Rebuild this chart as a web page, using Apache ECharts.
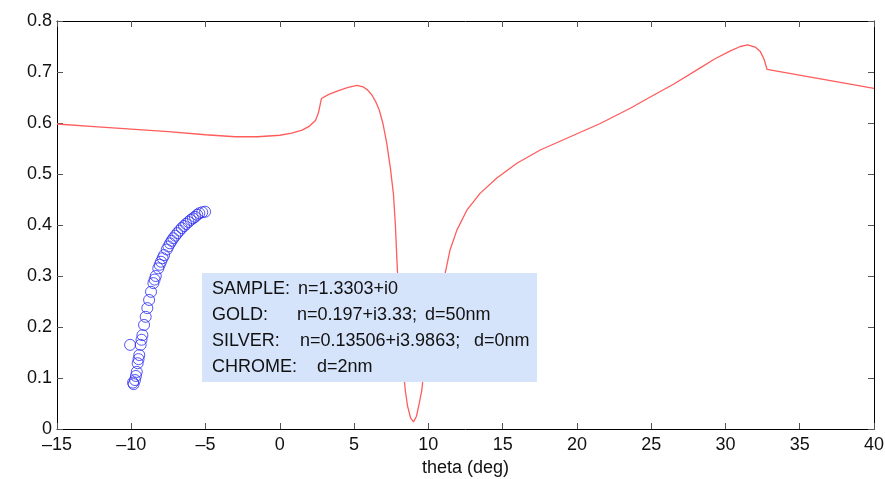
<!DOCTYPE html>
<html>
<head>
<meta charset="utf-8">
<script src="https://cdn.jsdelivr.net/npm/echarts@6/dist/echarts.min.js"></script>
<style>
  html, body { margin: 0; padding: 0; background: #fff; }
  #chart { width: 885px; height: 479px; }
</style>
</head>
<body>
<div id="chart"></div>
<script>
// reflectivity curve (theta in deg, R)
const curveTheta = [-15, -12.5, -10, -7.5, -5, -3, -1.5, 0, 0.8, 1.5, 2.0, 2.4, 2.6, 2.8, 3.3, 4.0, 4.6, 5.2, 5.6, 5.9, 6.2, 6.45, 6.7, 6.95, 7.2, 7.45, 7.65, 7.78, 7.87, 7.95, 8.1, 8.3, 8.45, 8.6, 8.8, 9.0, 9.2, 9.4, 9.56, 9.75, 9.95, 10.3, 10.7, 11.13, 11.46, 11.92, 12.59, 13.48, 14.61, 15.96, 17.53, 19.55, 21.57, 23.59, 25.0, 26.5, 28.3, 29.3, 30.3, 31.0, 31.5, 32.0, 32.35, 32.6, 32.8, 40.0]
const curveR = [0.598, 0.593, 0.588, 0.583, 0.577, 0.573, 0.573, 0.576, 0.580, 0.586, 0.594, 0.605, 0.620, 0.648, 0.656, 0.664, 0.670, 0.674, 0.671, 0.665, 0.655, 0.642, 0.625, 0.598, 0.560, 0.510, 0.460, 0.400, 0.340, 0.290, 0.200, 0.120, 0.075, 0.045, 0.022, 0.014, 0.025, 0.052, 0.076, 0.130, 0.180, 0.230, 0.270, 0.305, 0.351, 0.390, 0.429, 0.462, 0.492, 0.521, 0.547, 0.573, 0.599, 0.629, 0.652, 0.676, 0.708, 0.726, 0.741, 0.750, 0.753, 0.749, 0.740, 0.725, 0.705, 0.668]

// measured points
const measTheta = [-10.08, -9.88, -9.84, -9.75, -9.69, -9.63, -9.57, -9.51, -9.46, -9.37, -9.31, -9.25, -9.14, -9.03, -8.92, -8.80, -8.67, -8.51, -8.43, -8.35, -8.18, -8.09, -8.00, -7.89, -7.79, -7.61, -7.50, -7.39, -7.28, -7.17, -7.03, -6.90, -6.75, -6.60, -6.45, -6.31, -6.15, -6.00, -5.85, -5.71, -5.56, -5.42, -5.22, -5.03]
const measR = [0.165, 0.091, 0.088, 0.096, 0.104, 0.112, 0.129, 0.137, 0.145, 0.165, 0.175, 0.184, 0.204, 0.220, 0.237, 0.253, 0.269, 0.286, 0.293, 0.300, 0.315, 0.322, 0.328, 0.335, 0.341, 0.352, 0.358, 0.364, 0.369, 0.374, 0.379, 0.384, 0.389, 0.394, 0.398, 0.402, 0.406, 0.410, 0.413, 0.416, 0.420, 0.423, 0.425, 0.426]

const xTicks = [-15, -10, -5, 0, 5, 10, 15, 20, 25, 30, 35, 40]
const yTicks = [0, 0.1, 0.2, 0.3, 0.4, 0.5, 0.6, 0.7, 0.8]

const infoLabels = ['SAMPLE:', 'GOLD:', 'SILVER:', 'CHROME:']
const infoN = ['n=1.3303+i0', 'n=0.197+i3.33;', 'n=0.13506+i3.9863;', '']
const infoD = ['', 'd=50nm', 'd=0nm', 'd=2nm']

const FONT = '"Liberation Sans", Arial, sans-serif'

const chart = echarts.init(document.getElementById('chart'))

const tickStyle = {show: true, inside: true, length: 6, lineStyle: {color: '#555', width: 1}}

// annotation box text, px positions
const nX = [298, 297, 300, 0]
const dX = [0, 425, 474, 317]
const infoText = []
infoLabels.forEach((lab, i) => {
  const y = 289 + i * 26
  const st = {font: '18px ' + FONT, fill: '#111', textVerticalAlign: 'middle'}
  infoText.push({type: 'text', x: 212, y: y, style: Object.assign({text: lab}, st), z: 101})
  if (infoN[i]) infoText.push({type: 'text', x: nX[i], y: y, style: Object.assign({text: infoN[i]}, st), z: 101})
  if (infoD[i]) infoText.push({type: 'text', x: dX[i], y: y, style: Object.assign({text: infoD[i]}, st), z: 101})
})

const option = {
  animation: false,
  backgroundColor: '#fff',
  grid: {left: 57, right: 11, top: 21, bottom: 50, containLabel: false, outerBoundsMode: 'none'},
  xAxis: [
    {
      type: 'value', min: xTicks[0], max: xTicks[xTicks.length - 1], interval: 5,
      name: 'theta (deg)', nameLocation: 'middle', nameGap: 29,
      nameTextStyle: {fontFamily: FONT, fontSize: 18, color: '#111'},
      axisLine: {show: true, onZero: false, lineStyle: {color: '#000', width: 1}},
      axisTick: tickStyle,
      axisLabel: {fontFamily: FONT, fontSize: 18, color: '#111', margin: 7,
        formatter: v => v < 0 ? '\u2013' + Math.abs(v) : String(v)},
      splitLine: {show: false}
    },
    {
      type: 'value', position: 'top', min: xTicks[0], max: xTicks[xTicks.length - 1], interval: 5,
      axisLine: {show: true, onZero: false, lineStyle: {color: '#000', width: 1}},
      axisTick: tickStyle, axisLabel: {show: false}, splitLine: {show: false}
    }
  ],
  yAxis: [
    {
      type: 'value', min: yTicks[0], max: yTicks[yTicks.length - 1], interval: 0.1,
      name: 'R', nameLocation: 'middle', nameGap: 60, nameRotate: 90,
      nameTextStyle: {fontFamily: FONT, fontSize: 18, color: '#111'},
      axisLine: {show: true, onZero: false, lineStyle: {color: '#000', width: 1}},
      axisTick: tickStyle,
      axisLabel: {fontFamily: FONT, fontSize: 18, color: '#111', margin: 5,
        formatter: v => v === 0 ? '0' : v.toFixed(1)},
      splitLine: {show: false}
    },
    {
      type: 'value', position: 'right', min: yTicks[0], max: yTicks[yTicks.length - 1], interval: 0.1,
      axisLine: {show: true, onZero: false, lineStyle: {color: '#000', width: 1}},
      axisTick: tickStyle, axisLabel: {show: false}, splitLine: {show: false}
    }
  ],
  series: [
    {
      type: 'line',
      data: curveTheta.map((t, i) => [t, curveR[i]]),
      showSymbol: false,
      smooth: false,
      lineStyle: {color: '#ff5c5c', width: 1.3},
      z: 3
    },
    {
      type: 'scatter',
      data: measTheta.map((t, i) => [t, measR[i]]),
      symbol: 'circle',
      symbolSize: 11,
      itemStyle: {color: 'rgba(0,0,0,0)', borderColor: '#2a2af2', borderWidth: 1},
      z: 4
    }
  ],
  graphic: [
    {type: 'rect', shape: {x: 202, y: 273, width: 335, height: 109}, style: {fill: '#d6e4fb'}, z: 100},
    ...infoText
  ]
}

chart.setOption(option)
</script>
</body>
</html>
